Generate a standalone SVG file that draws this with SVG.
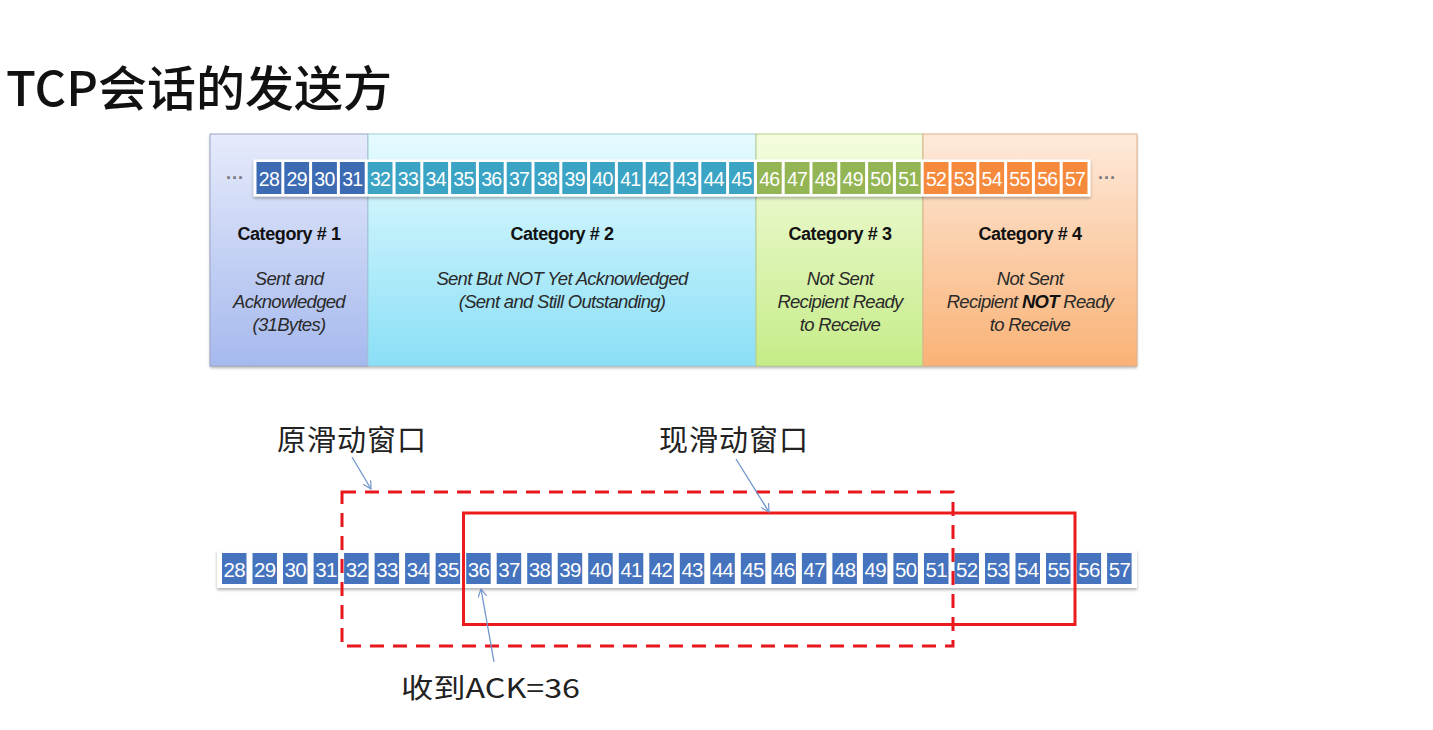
<svg xmlns="http://www.w3.org/2000/svg" width="1433" height="730" viewBox="0 0 1433 730">
<defs>
<linearGradient id="g1" x1="0" y1="0" x2="0" y2="1"><stop offset="0" stop-color="#e6ebfb"/><stop offset="1" stop-color="#a6b9ee"/></linearGradient>
<linearGradient id="g2" x1="0" y1="0" x2="0" y2="1"><stop offset="0" stop-color="#e6fbff"/><stop offset="1" stop-color="#8adff6"/></linearGradient>
<linearGradient id="g3" x1="0" y1="0" x2="0" y2="1"><stop offset="0" stop-color="#f4fce0"/><stop offset="1" stop-color="#c6ec88"/></linearGradient>
<linearGradient id="g4" x1="0" y1="0" x2="0" y2="1"><stop offset="0" stop-color="#feeadb"/><stop offset="1" stop-color="#f9b276"/></linearGradient>
<filter id="sh" x="-5%" y="-20%" width="110%" height="150%"><feDropShadow dx="0" dy="2" stdDeviation="1.5" flood-color="#000" flood-opacity="0.3"/></filter>
<marker id="ah" viewBox="0 0 10 10" refX="9" refY="5" markerWidth="9" markerHeight="9" orient="auto" markerUnits="userSpaceOnUse"><path d="M0,0 L9,5 L0,10" fill="none" stroke="#6f95cc" stroke-width="1.3"/></marker>
<style>
.c1{fill:#3c6bb3}.c2{fill:#3ba4c4}.c3{fill:#93b553}.c4{fill:#f68a3c}.cb{fill:#4573bd}
.tn{font-family:"Liberation Sans",Arial,sans-serif;font-size:19.5px;fill:#fff;text-anchor:middle;letter-spacing:-0.7px}
.bn{font-family:"Liberation Sans",Arial,sans-serif;font-size:20.5px;fill:#fff;text-anchor:middle;letter-spacing:-0.7px}
.hd{font-family:"Liberation Sans",Arial,sans-serif;font-size:18px;font-weight:bold;fill:#111;text-anchor:middle;letter-spacing:-0.4px}
.ds{font-family:"Liberation Sans",Arial,sans-serif;font-size:18.5px;font-style:italic;fill:#2a2a2a;text-anchor:middle;letter-spacing:-0.7px}
.cn{font-family:"Noto Sans CJK SC",sans-serif;font-size:29px;fill:#222;letter-spacing:1px}
.dots{font-family:"Liberation Sans",Arial,sans-serif;font-size:18px;font-weight:bold;fill:#7a7a7a}
.arr{stroke:#6f95cc;stroke-width:1.3;fill:none;marker-end:url(#ah)}
</style>
</defs>
<rect width="1433" height="730" fill="#fff"/>
<g id="title"><text x="6" y="106" font-family="'Noto Sans CJK SC',sans-serif" font-size="48" font-weight="500" fill="#111" textLength="386" lengthAdjust="spacingAndGlyphs">TCP会话的发送方</text></g>

<g id="panel">
<rect x="210" y="134" width="927" height="232" fill="#fff" filter="url(#sh)"/>
<g id="cat1"><rect x="210" y="134" width="158" height="232" fill="url(#g1)" stroke="#9aa6c8" stroke-width="1"/>
<text class="hd" x="289" y="240">Category # 1</text>
<text class="ds" x="289" y="285">Sent and</text><text class="ds" x="289" y="308">Acknowledged</text><text class="ds" x="289" y="331">(31Bytes)</text></g>
<g id="cat2"><rect x="368" y="134" width="388" height="232" fill="url(#g2)" stroke="#9ccbd8" stroke-width="1"/>
<text class="hd" x="562" y="240">Category # 2</text>
<text class="ds" x="562" y="285">Sent But NOT Yet Acknowledged</text><text class="ds" x="562" y="308">(Sent and Still Outstanding)</text></g>
<g id="cat3"><rect x="756" y="134" width="167" height="232" fill="url(#g3)" stroke="#b5cf8a" stroke-width="1"/>
<text class="hd" x="840" y="240">Category # 3</text>
<text class="ds" x="840" y="285">Not Sent</text><text class="ds" x="840" y="308">Recipient Ready</text><text class="ds" x="840" y="331">to Receive</text></g>
<g id="cat4"><rect x="923" y="134" width="214" height="232" fill="url(#g4)" stroke="#e0b08a" stroke-width="1"/>
<text class="hd" x="1030" y="240">Category # 4</text>
<text class="ds" x="1030" y="285">Not Sent</text><text class="ds" x="1030" y="308">Recipient <tspan font-weight="bold" fill="#111">NOT</tspan> Ready</text><text class="ds" x="1030" y="331">to Receive</text></g>
</g>

<g id="top-strip">
<text class="dots" x="226" y="184">···</text>
<text class="dots" x="1098" y="184">···</text>
<rect x="253.5" y="159.5" width="837" height="37" fill="#fff" filter="url(#sh)"/>
<rect class="c1" x="256.5" y="162" width="24.8" height="32"/><text class="tn" x="268.9" y="186">28</text>
<rect class="c1" x="284.3" y="162" width="24.8" height="32"/><text class="tn" x="296.7" y="186">29</text>
<rect class="c1" x="312.1" y="162" width="24.8" height="32"/><text class="tn" x="324.5" y="186">30</text>
<rect class="c1" x="339.9" y="162" width="24.8" height="32"/><text class="tn" x="352.3" y="186">31</text>
<rect class="c2" x="367.7" y="162" width="24.8" height="32"/><text class="tn" x="380.1" y="186">32</text>
<rect class="c2" x="395.5" y="162" width="24.8" height="32"/><text class="tn" x="407.9" y="186">33</text>
<rect class="c2" x="423.3" y="162" width="24.8" height="32"/><text class="tn" x="435.7" y="186">34</text>
<rect class="c2" x="451.1" y="162" width="24.8" height="32"/><text class="tn" x="463.5" y="186">35</text>
<rect class="c2" x="478.9" y="162" width="24.8" height="32"/><text class="tn" x="491.3" y="186">36</text>
<rect class="c2" x="506.7" y="162" width="24.8" height="32"/><text class="tn" x="519.1" y="186">37</text>
<rect class="c2" x="534.5" y="162" width="24.8" height="32"/><text class="tn" x="546.9" y="186">38</text>
<rect class="c2" x="562.3" y="162" width="24.8" height="32"/><text class="tn" x="574.7" y="186">39</text>
<rect class="c2" x="590.1" y="162" width="24.8" height="32"/><text class="tn" x="602.5" y="186">40</text>
<rect class="c2" x="617.9" y="162" width="24.8" height="32"/><text class="tn" x="630.3" y="186">41</text>
<rect class="c2" x="645.7" y="162" width="24.8" height="32"/><text class="tn" x="658.1" y="186">42</text>
<rect class="c2" x="673.5" y="162" width="24.8" height="32"/><text class="tn" x="685.9" y="186">43</text>
<rect class="c2" x="701.3" y="162" width="24.8" height="32"/><text class="tn" x="713.7" y="186">44</text>
<rect class="c2" x="729.1" y="162" width="24.8" height="32"/><text class="tn" x="741.5" y="186">45</text>
<rect class="c3" x="756.9" y="162" width="24.8" height="32"/><text class="tn" x="769.3" y="186">46</text>
<rect class="c3" x="784.7" y="162" width="24.8" height="32"/><text class="tn" x="797.1" y="186">47</text>
<rect class="c3" x="812.5" y="162" width="24.8" height="32"/><text class="tn" x="824.9" y="186">48</text>
<rect class="c3" x="840.3" y="162" width="24.8" height="32"/><text class="tn" x="852.7" y="186">49</text>
<rect class="c3" x="868.1" y="162" width="24.8" height="32"/><text class="tn" x="880.5" y="186">50</text>
<rect class="c3" x="895.9" y="162" width="24.8" height="32"/><text class="tn" x="908.3" y="186">51</text>
<rect class="c4" x="923.7" y="162" width="24.8" height="32"/><text class="tn" x="936.1" y="186">52</text>
<rect class="c4" x="951.5" y="162" width="24.8" height="32"/><text class="tn" x="963.9" y="186">53</text>
<rect class="c4" x="979.3" y="162" width="24.8" height="32"/><text class="tn" x="991.7" y="186">54</text>
<rect class="c4" x="1007.1" y="162" width="24.8" height="32"/><text class="tn" x="1019.5" y="186">55</text>
<rect class="c4" x="1034.9" y="162" width="24.8" height="32"/><text class="tn" x="1047.3" y="186">56</text>
<rect class="c4" x="1062.7" y="162" width="24.8" height="32"/><text class="tn" x="1075.1" y="186">57</text>
</g>

<g id="bottom-strip">
<rect x="217" y="550" width="920" height="38" fill="#fff" filter="url(#sh)"/>
<rect class="cb" x="222.0" y="553" width="24.5" height="31"/><text class="bn" x="234.3" y="577">28</text>
<rect class="cb" x="252.5" y="553" width="24.5" height="31"/><text class="bn" x="264.8" y="577">29</text>
<rect class="cb" x="283.0" y="553" width="24.5" height="31"/><text class="bn" x="295.3" y="577">30</text>
<rect class="cb" x="313.6" y="553" width="24.5" height="31"/><text class="bn" x="325.9" y="577">31</text>
<rect class="cb" x="344.1" y="553" width="24.5" height="31"/><text class="bn" x="356.4" y="577">32</text>
<rect class="cb" x="374.6" y="553" width="24.5" height="31"/><text class="bn" x="386.9" y="577">33</text>
<rect class="cb" x="405.1" y="553" width="24.5" height="31"/><text class="bn" x="417.4" y="577">34</text>
<rect class="cb" x="435.6" y="553" width="24.5" height="31"/><text class="bn" x="447.9" y="577">35</text>
<rect class="cb" x="466.2" y="553" width="24.5" height="31"/><text class="bn" x="478.5" y="577">36</text>
<rect class="cb" x="496.7" y="553" width="24.5" height="31"/><text class="bn" x="509.0" y="577">37</text>
<rect class="cb" x="527.2" y="553" width="24.5" height="31"/><text class="bn" x="539.5" y="577">38</text>
<rect class="cb" x="557.7" y="553" width="24.5" height="31"/><text class="bn" x="570.0" y="577">39</text>
<rect class="cb" x="588.2" y="553" width="24.5" height="31"/><text class="bn" x="600.5" y="577">40</text>
<rect class="cb" x="618.8" y="553" width="24.5" height="31"/><text class="bn" x="631.1" y="577">41</text>
<rect class="cb" x="649.3" y="553" width="24.5" height="31"/><text class="bn" x="661.6" y="577">42</text>
<rect class="cb" x="679.8" y="553" width="24.5" height="31"/><text class="bn" x="692.1" y="577">43</text>
<rect class="cb" x="710.3" y="553" width="24.5" height="31"/><text class="bn" x="722.6" y="577">44</text>
<rect class="cb" x="740.8" y="553" width="24.5" height="31"/><text class="bn" x="753.1" y="577">45</text>
<rect class="cb" x="771.4" y="553" width="24.5" height="31"/><text class="bn" x="783.7" y="577">46</text>
<rect class="cb" x="801.9" y="553" width="24.5" height="31"/><text class="bn" x="814.2" y="577">47</text>
<rect class="cb" x="832.4" y="553" width="24.5" height="31"/><text class="bn" x="844.7" y="577">48</text>
<rect class="cb" x="862.9" y="553" width="24.5" height="31"/><text class="bn" x="875.2" y="577">49</text>
<rect class="cb" x="893.4" y="553" width="24.5" height="31"/><text class="bn" x="905.7" y="577">50</text>
<rect class="cb" x="924.0" y="553" width="24.5" height="31"/><text class="bn" x="936.3" y="577">51</text>
<rect class="cb" x="954.5" y="553" width="24.5" height="31"/><text class="bn" x="966.8" y="577">52</text>
<rect class="cb" x="985.0" y="553" width="24.5" height="31"/><text class="bn" x="997.3" y="577">53</text>
<rect class="cb" x="1015.5" y="553" width="24.5" height="31"/><text class="bn" x="1027.8" y="577">54</text>
<rect class="cb" x="1046.0" y="553" width="24.5" height="31"/><text class="bn" x="1058.3" y="577">55</text>
<rect class="cb" x="1076.6" y="553" width="24.5" height="31"/><text class="bn" x="1088.9" y="577">56</text>
<rect class="cb" x="1107.1" y="553" width="24.5" height="31"/><text class="bn" x="1119.4" y="577">57</text>
</g>

<g id="old-window"><rect x="342" y="492" width="611" height="154" fill="none" stroke="#e8161d" stroke-width="3" stroke-dasharray="14 9"/></g>
<g id="new-window"><rect x="463.5" y="513" width="611.5" height="111.5" fill="none" stroke="#ec1c1c" stroke-width="3"/></g>

<g id="label-old"><text class="cn" x="277" y="451">原滑动窗口</text></g>
<g id="label-new"><text class="cn" x="659" y="451">现滑动窗口</text></g>
<g id="label-ack"><text x="401" y="698" font-family="'Noto Sans CJK SC',sans-serif" font-size="27" fill="#222" textLength="179" lengthAdjust="spacingAndGlyphs">收到ACK=36</text></g>

<g id="connectors">
<line class="arr" x1="352" y1="457" x2="371" y2="489"/>
<line class="arr" x1="736" y1="459" x2="769" y2="512"/>
<line class="arr" x1="494" y1="662" x2="481" y2="589"/>
</g>
</svg>
